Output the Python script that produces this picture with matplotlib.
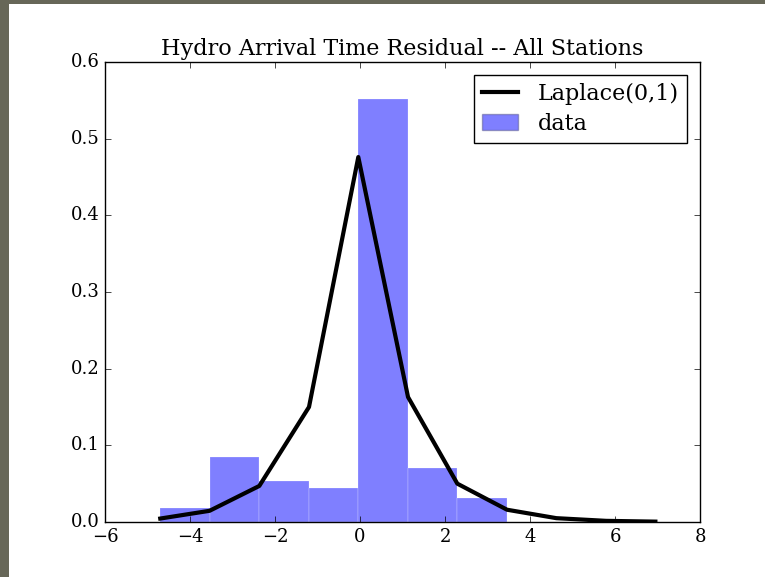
import matplotlib
matplotlib.use("Agg")
import matplotlib.pyplot as plt
from matplotlib.patches import Rectangle

# Data
bin_edges = [-4.70, -3.54, -2.37, -1.20, -0.04, 1.13, 2.29, 3.46, 4.62, 5.79, 6.95]
density = [0.018, 0.085, 0.053, 0.045, 0.552, 0.070, 0.031, 0.0, 0.0, 0.002]
laplace_pdf = [0.0045, 0.0146, 0.047, 0.150, 0.476, 0.163, 0.050, 0.016, 0.005, 0.0015, 0.0005]
title = "Hydro Arrival Time Residual -- All Stations"
x_ticks = [-6, -4, -2, 0, 2, 4, 6, 8]
y_ticks = [0.0, 0.1, 0.2, 0.3, 0.4, 0.5, 0.6]

plt.style.use("classic")
plt.rcParams["font.family"] = ["DejaVu Serif"]

fig = plt.figure(figsize=(7.65, 5.77), dpi=100)
fig.patch.set_facecolor("white")
# dark border strips at left and top of the screenshot
fig.patches.append(Rectangle((0, 0), 9 / 765, 1, transform=fig.transFigure,
                             facecolor="#676758", edgecolor="none", zorder=-10))
fig.patches.append(Rectangle((0, 1 - 4 / 577), 1, 4 / 577, transform=fig.transFigure,
                             facecolor="#676758", edgecolor="none", zorder=-10))

ax = fig.add_axes([105 / 765, 55 / 577, 595 / 765, 460 / 577])

widths = [bin_edges[i + 1] - bin_edges[i] for i in range(len(density))]
bars = ax.bar(bin_edges[:-1], density, width=widths, align="edge",
              color="blue", alpha=0.5, edgecolor="white", linewidth=0.3,
              label="data", zorder=1)
line, = ax.plot(bin_edges, laplace_pdf, color="black", lw=3, label="Laplace(0,1)", zorder=2)

ax.set_xlim(-6, 8)
ax.set_ylim(0, 0.6)
ax.set_xticks(x_ticks)
ax.set_yticks(y_ticks)
ax.set_xticklabels(["\u22126", "\u22124", "\u22122", "0", "2", "4", "6", "8"])
ax.set_yticklabels(["0.0", "0.1", "0.2", "0.3", "0.4", "0.5", "0.6"])
ax.tick_params(labelsize=13, direction="in", length=4, pad=4)
ax.set_title(title, fontsize=16)

leg = ax.legend(handles=[line, bars], loc="upper right", fontsize=16,
                frameon=True, fancybox=False, numpoints=1, borderaxespad=0.6,
                handlelength=1.6, borderpad=0.35, labelspacing=0.35, handletextpad=0.9)
leg.get_frame().set_edgecolor("black")
leg.get_frame().set_linewidth(1.0)
leg.legend_handles[1].set_edgecolor("#555588")
leg.legend_handles[1].set_linewidth(1.0)

fig.savefig("out.png", dpi=100, facecolor=fig.get_facecolor())
